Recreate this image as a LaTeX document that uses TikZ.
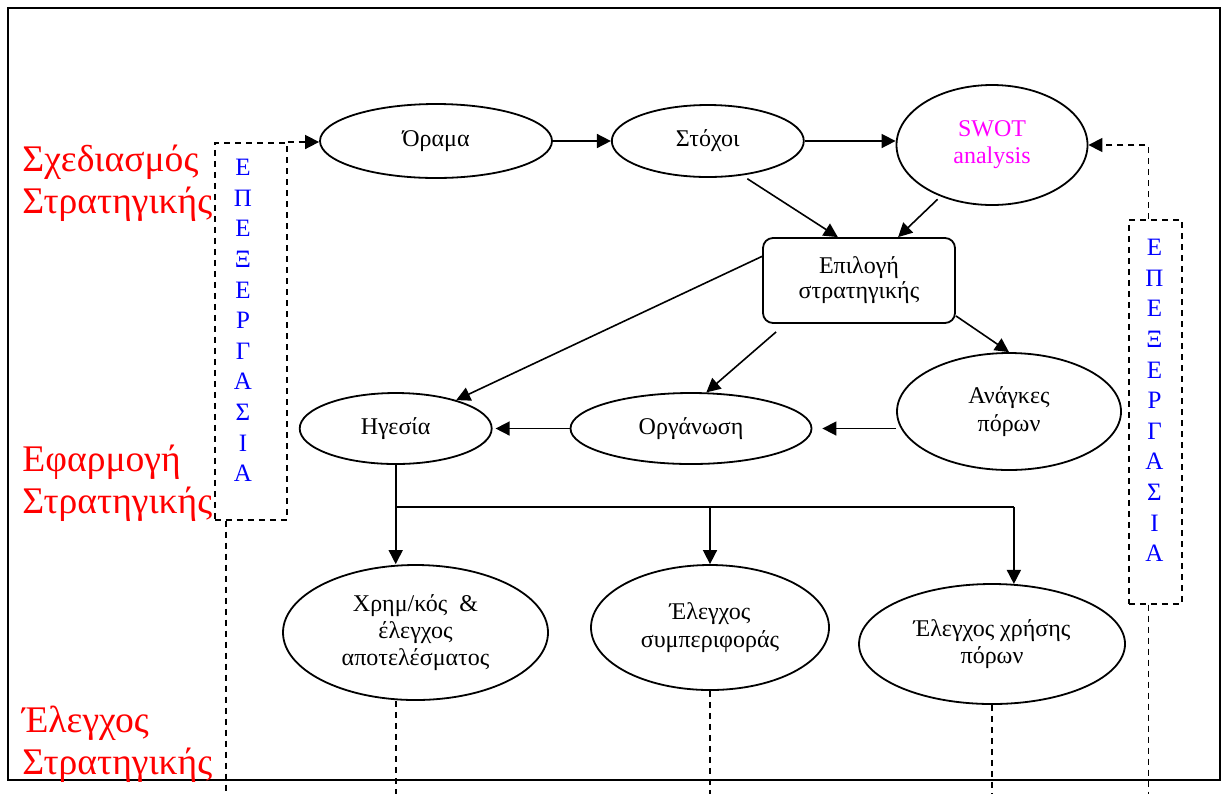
\documentclass[tikz,border=0pt]{standalone}
\usepackage{fontspec}
\setmainfont{Liberation Serif}
\usetikzlibrary{shapes.geometric, arrows.meta, positioning}
\definecolor{red1}{RGB}{255, 0, 0}
\definecolor{blue1}{RGB}{0, 0, 255}
\definecolor{pink1}{RGB}{255, 0, 255}

\begin{document}
\begin{tikzpicture}[x=0.5pt, y=-0.5pt,
    oval/.style={ellipse, draw, line width=0.9pt, inner sep=0pt, align=center, font=\fontsize{12}{13.6}\selectfont},
    box/.style={rectangle, draw, rounded corners=5pt, line width=0.9pt, inner sep=0pt, align=center, font=\fontsize{12}{12.5}\selectfont},
    stage/.style={anchor=north west, align=left, inner sep=0pt, text=red1, font=\fontsize{18.8}{20.75}\selectfont},
    frame/.style={rectangle, draw, dash pattern=on 3pt off 2.5pt, line width=0.8pt, inner sep=0pt, anchor=north west},
    word/.style={anchor=north, align=center, inner sep=0pt, text=blue1, font=\fontsize{12.5}{15.3}\selectfont},
    arrow/.style={-{Triangle[length=7pt, width=7pt]}, line width=0.8pt},
    dashline/.style={dash pattern=on 3pt off 2.5pt, line width=0.8pt}]
    \useasboundingbox (0,0) rectangle (1224,794);
    \draw[line width=1.3pt] (8,8) rectangle (1220,780);
    \coordinate (bottom) at (0,794);

    % planning
    \node[oval, minimum width=116pt, minimum height=37pt] (orama) at (436,141) {Όραμα};
    \node[oval, minimum width=96pt, minimum height=36pt, right=29pt of orama] (stoxoi) {Στόχοι};
    \node[oval, minimum width=95.5pt, minimum height=60pt, text=pink1] (swot) at (992,145) {SWOT\\analysis};
    \node[box, minimum width=96pt, minimum height=42.5pt] (epilogi) at (859,280.5) {Επιλογή\\στρατηγικής};

    % implementation
    \node[oval, minimum width=112pt, minimum height=58.5pt] (anagkes) at (1009,411.5) {Ανάγκες\\πόρων};
    \node[oval, minimum width=120.5pt, minimum height=35.5pt] (organosi) at (691,428.5) {Οργάνωση};
    \node[oval, minimum width=96pt, minimum height=35.5pt, left=38.5pt of organosi] (igesia) {Ηγεσία};

    % control
    \node[oval, minimum width=132.5pt, minimum height=67.5pt] (xrim) at (415.5,632.5) {Χρημ/κός\ \ \&\\έλεγχος\\αποτελέσματος};
    \node[oval, minimum width=119pt, minimum height=62.5pt] (sympe) at (710,627.5) {Έλεγχος\\συμπεριφοράς};
    \node[oval, minimum width=133pt, minimum height=60pt] (xrisi) at (992,644) {Έλεγχος χρήσης\\πόρων};

    % stages
    \node[stage] (sxed) at (22,145) {Σχεδιασμός\\Στρατηγικής};
    \node[stage] (efar) at (22,445) {Εφαρμογή\\Στρατηγικής};
    \node[stage] (eleg) at (22,706) {Έλεγχος\\Στρατηγικής};

    % feedback boxes
    \node[frame, minimum width=36pt, minimum height=188.5pt] (leftbox) at (214,142) {};
    \node[frame, minimum width=26.5pt, minimum height=192pt] (rightbox) at (1128,219) {};
    \node[word] (leftword) at (243,159) {Ε\\Π\\Ε\\Ξ\\Ε\\Ρ\\Γ\\Α\\Σ\\Ι\\Α};
    \node[word] (rightword) at (1154.5,239) {Ε\\Π\\Ε\\Ξ\\Ε\\Ρ\\Γ\\Α\\Σ\\Ι\\Α};
    \coordinate[right=6pt of leftbox.south west] (lefttail);
    \coordinate[left=3.5pt of rightbox.north] (righthead);
    \coordinate[left=3.5pt of rightbox.south] (righttail);

    \draw[arrow] (orama) -- (stoxoi);
    \draw[arrow] (stoxoi.east) -- (stoxoi.east -| swot.west);
    \draw[arrow, shorten <=3pt] (stoxoi.-45) -- (epilogi.116);
    \draw[arrow, shorten <=2pt] (swot.225) -- (epilogi.48);
    \draw[arrow] (epilogi.166) -- (igesia);
    \draw[arrow] ([shift={(7pt,-4pt)}]epilogi.south west) -- (organosi.67);
    \draw[arrow] ([yshift=4pt]epilogi.south east) -- (anagkes.north);
    \draw[arrow, shorten >=5pt] (anagkes.west |- organosi.east) -- (organosi.east);
    \draw[arrow, shorten >=1.5pt] (organosi) -- (igesia);

    \coordinate[below=21pt of igesia] (split);
    \draw[line width=0.8pt] (igesia) -- (split) -- (split -| xrisi.70);
    \draw[arrow] (split) -- (split |- xrim.north);
    \draw[arrow] (split -| sympe.north) -- (sympe.north);
    \draw[arrow] (split -| xrisi.70) -- (xrisi.70);

    \draw[dashline] (split |- xrim.south) -- (split |- bottom);
    \draw[dashline] (sympe.south) -- (sympe.south |- bottom);
    \draw[dashline] (xrisi.south) -- (xrisi.south |- bottom);
    \draw[dashline] (lefttail) -- (lefttail |- bottom);
    \draw[dashline] (righttail) -- (righttail |- bottom);
    \draw[dashline, arrow] (leftbox.north east) -- (leftbox.north east -| orama.west);
    \draw[dashline, arrow] (righthead) |- (swot.east);
\end{tikzpicture}
\end{document}
